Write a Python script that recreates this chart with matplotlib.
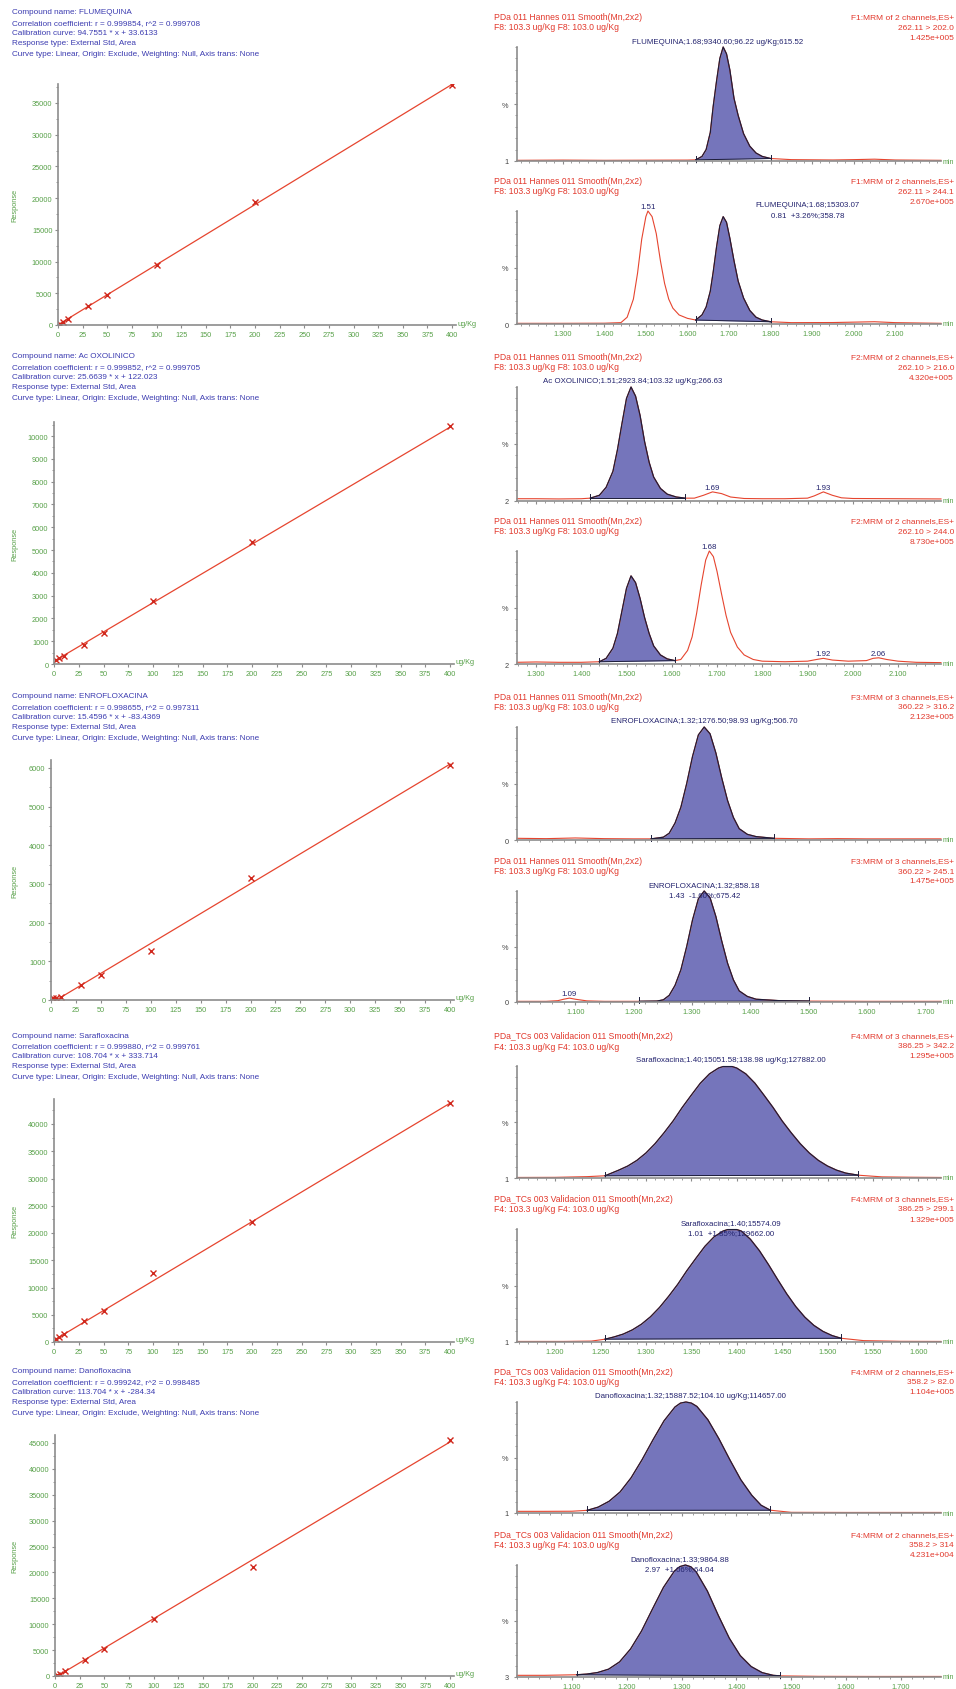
import numpy as np
import matplotlib
matplotlib.use("Agg")
import matplotlib.pyplot as plt
from matplotlib.ticker import MultipleLocator, FixedLocator

W, H = 956, 1690
plt.rcParams["font.family"] = ["Liberation Sans", "DejaVu Sans"]

BLUE_TXT = "#3b3bb0"
RED_TXT = "#e2382c"
NAVY = "#23236e"
GREEN = "#57a048"
AXIS = "#8c8c8c"
FILL = "#7575bb"
TRACE = "#e6452f"
EDGE = "#1d1d3a"
MARK = "#d0271c"

# ---- calibration curves ----
CONC = [2, 5, 10, 30, 50, 100, 200, 400]
NAMES = ["FLUMEQUINA", "Ac OXOLINICO", "ENROFLOXACINA", "Sarafloxacina", "Danofloxacina"]
R_VALUES = ["0.999854", "0.999852", "0.998655", "0.999880", "0.999242"]
R2_VALUES = ["0.999708", "0.999705", "0.997311", "0.999761", "0.998485"]
SLOPES = [94.7551, 25.6639, 15.4596, 108.704, 113.704]
INTERCEPTS = [33.6133, 122.023, -83.4369, 333.714, -284.34]
RESP_FLU = [210, 530, 960, 2940, 4730, 9510, 19400, 37800]
RESP_OXO = [180, 260, 370, 850, 1360, 2770, 5360, 10420]
RESP_ENRO = [40, 60, 90, 390, 650, 1270, 3150, 6080]
RESP_SARA = [520, 900, 1400, 3900, 5750, 12600, 22000, 43800]
RESP_DANO = [150, 420, 900, 3150, 5200, 11000, 21000, 45600]
RESPONSES = [RESP_FLU, RESP_OXO, RESP_ENRO, RESP_SARA, RESP_DANO]
Y_STEP = [5000, 1000, 1000, 5000, 5000]
Y_MAX_TICK = [35000, 10000, 6000, 40000, 45000]
Y_TOP = [38000, 10600, 6200, 44500, 46500]

# pixel geometry of the left column: y-axis x, x=400 position, y=0 row, top tick row
CAL_LEFT = [58, 54, 51, 54, 55]
CAL_X400 = [452, 450, 450, 450, 450]
CAL_Y0 = [326, 665, 1001, 1343, 1677]
CAL_YTICK = [104, 437, 769, 1125, 1444]
CAL_HEAD = [13, 357, 697, 1036, 1372]

# ---- chromatograms (time in min, intensity in %) ----
P1_T = [1.19, 1.30, 1.40, 1.50, 1.60, 1.62, 1.635, 1.645, 1.655, 1.662, 1.670, 1.678, 1.686, 1.694,
        1.702, 1.712, 1.722, 1.735, 1.750, 1.765, 1.780, 1.80, 1.85, 1.95, 2.00, 2.05, 2.10, 2.21]
P1_Y = [0.6, 0.8, 0.6, 0.7, 0.8, 1.0, 4, 10, 25, 48, 70, 90, 100, 94,
        80, 55, 40, 24, 13, 7, 4, 2.2, 1.2, 0.9, 1.2, 1.6, 0.9, 0.6]
P2_T = [1.19, 1.30, 1.40, 1.44, 1.455, 1.47, 1.48, 1.49, 1.50, 1.505, 1.515, 1.525, 1.535, 1.545,
        1.555, 1.565, 1.58, 1.60, 1.62, 1.635, 1.645, 1.655, 1.662, 1.670, 1.678, 1.686, 1.694,
        1.702, 1.712, 1.722, 1.735, 1.750, 1.765, 1.780, 1.80, 1.85, 1.95, 2.05, 2.10, 2.21]
P2_Y = [0.6, 0.6, 0.7, 1.2, 6, 22, 45, 75, 95, 100, 95, 80, 56, 36,
        22, 14, 8, 5, 3.5, 8, 15, 29, 46, 68, 87, 95, 90,
        76, 56, 38, 23, 12, 6, 3.5, 2, 1.2, 1.3, 2, 1.2, 0.6]
P3_T = [1.258, 1.30, 1.35, 1.40, 1.42, 1.44, 1.455, 1.47, 1.48, 1.49, 1.50, 1.51, 1.52, 1.53,
        1.54, 1.55, 1.56, 1.575, 1.59, 1.61, 1.63, 1.65, 1.67, 1.69, 1.71, 1.73, 1.76, 1.80,
        1.85, 1.90, 1.915, 1.935, 1.955, 1.975, 2.00, 2.10, 2.195]
P3_Y = [2, 2, 1.8, 2, 2.5, 5, 12, 26, 45, 68, 90, 100, 92, 75,
        52, 34, 21, 11, 6, 3.5, 2.5, 2.5, 5, 8, 6.5, 3.5, 2.2, 2,
        2, 2.5, 4.5, 8, 5, 2.8, 2.2, 2, 1.8]
P4_T = [1.258, 1.30, 1.35, 1.40, 1.44, 1.455, 1.47, 1.48, 1.49, 1.50, 1.51, 1.52, 1.53, 1.54,
        1.55, 1.56, 1.575, 1.59, 1.607, 1.62, 1.635, 1.645, 1.655, 1.665, 1.675, 1.683, 1.692,
        1.70, 1.71, 1.72, 1.73, 1.745, 1.76, 1.78, 1.80, 1.85, 1.90, 1.92, 1.935, 1.955, 1.99,
        2.03, 2.045, 2.057, 2.075, 2.10, 2.14, 2.195]
P4_Y = [1.5, 1.8, 1.5, 1.5, 2, 5, 14, 27, 47, 67, 78, 72, 58, 41,
        27, 16, 8, 4.5, 3, 4, 12, 24, 45, 70, 92, 100, 95,
        82, 62, 43, 28, 15, 8, 4, 2.5, 2, 2.5, 4, 5, 3.5, 2.5,
        3, 5, 5.5, 4, 2.5, 1.5, 1.2]
P5_T = [1.00, 1.05, 1.10, 1.15, 1.20, 1.23, 1.251, 1.261, 1.271, 1.281, 1.291, 1.301, 1.311, 1.321,
        1.331, 1.341, 1.351, 1.361, 1.371, 1.381, 1.395, 1.41, 1.44, 1.50, 1.55, 1.60, 1.65, 1.727]
P5_Y = [1.5, 1.2, 1.8, 1.2, 1.0, 1.0, 2.5, 6, 15, 29, 50, 74, 93, 100,
        94, 77, 55, 35, 20, 10, 5, 3, 1.5, 1.0, 1.2, 1.0, 1.0, 1.0]
P6_T = [1.00, 1.05, 1.07, 1.08, 1.09, 1.10, 1.12, 1.15, 1.21, 1.24, 1.251, 1.261, 1.271, 1.281,
        1.291, 1.301, 1.311, 1.321, 1.331, 1.341, 1.351, 1.361, 1.371, 1.381, 1.395, 1.41, 1.45,
        1.50, 1.60, 1.727]
P6_Y = [0.6, 0.6, 1.2, 2.5, 3.5, 2.5, 1.0, 0.6, 0.6, 0.8, 2, 6, 15, 29,
        50, 74, 93, 100, 94, 77, 55, 35, 20, 10, 5, 2.5, 1.2,
        0.8, 0.6, 0.6]
P7_T = [1.158, 1.20, 1.235, 1.255, 1.27, 1.28, 1.29, 1.30, 1.31, 1.32, 1.33, 1.34, 1.35, 1.36,
        1.37, 1.38, 1.385, 1.395, 1.40, 1.41, 1.42, 1.43, 1.44, 1.45, 1.46, 1.47, 1.48, 1.49,
        1.50, 1.51, 1.52, 1.534, 1.56, 1.59, 1.625]
P7_Y = [0.5, 0.6, 1.2, 2, 7, 10.7, 15.7, 22.3, 30.6, 40.4, 51, 63, 74, 84.7,
        93, 98.2, 99.5, 99.5, 98.2, 93, 84.7, 74, 63, 51, 40.4, 30.6, 22.3, 15.7,
        10.7, 7, 4.4, 2.5, 1.0, 0.7, 0.5]
P8_T = [1.158, 1.21, 1.24, 1.255, 1.265, 1.275, 1.285, 1.295, 1.305, 1.315, 1.325, 1.335, 1.345,
        1.355, 1.365, 1.375, 1.385, 1.39, 1.40, 1.405, 1.415, 1.425, 1.435, 1.445, 1.455, 1.465,
        1.475, 1.485, 1.495, 1.505, 1.515, 1.54, 1.58, 1.625]
P8_Y = [0.5, 0.5, 0.8, 2.5, 4.5, 7, 10.7, 15.7, 22.3, 30.6, 40.4, 51, 63,
        74, 84.7, 93, 98.2, 99.5, 99.5, 98.2, 91, 80.8, 68.5, 55.4, 42.7, 31.4,
        22, 14.7, 9.4, 5.7, 3.3, 1.2, 0.6, 0.5]
P9_T = [1.00, 1.05, 1.10, 1.128, 1.148, 1.168, 1.188, 1.208, 1.228, 1.248, 1.268, 1.288, 1.298,
        1.308, 1.318, 1.328, 1.348, 1.368, 1.388, 1.408, 1.428, 1.445, 1.462, 1.50, 1.60, 1.70,
        1.773]
P9_Y = [1.5, 1.5, 1.6, 2.4, 5.3, 10.6, 19, 31.7, 48, 66, 83, 95.5, 99,
        100, 99, 96, 84, 67, 48, 30, 16, 7, 2.5, 0.6, 0.5, 0.5,
        0.5]
P10_T = [1.00, 1.05, 1.109, 1.127, 1.147, 1.167, 1.187, 1.207, 1.227, 1.247, 1.267, 1.287, 1.297,
         1.307, 1.317, 1.327, 1.347, 1.367, 1.387, 1.407, 1.427, 1.447, 1.467, 1.48, 1.55, 1.65,
         1.773]
P10_Y = [1.5, 1.5, 2, 2.6, 4, 7, 13.5, 25, 41, 60.7, 80, 94.6, 98.6,
         100, 98.4, 93.6, 76.8, 55, 34.7, 19.1, 9.3, 3.9, 1.5, 1.0, 0.6, 0.5,
         0.5]

TRACES = [(P1_T, P1_Y), (P2_T, P2_Y), (P3_T, P3_Y), (P4_T, P4_Y), (P5_T, P5_Y),
          (P6_T, P6_Y), (P7_T, P7_Y), (P8_T, P8_Y), (P9_T, P9_Y), (P10_T, P10_Y)]
WINDOWS = [(1.62, 1.80), (1.62, 1.80), (1.42, 1.63), (1.44, 1.607), (1.23, 1.44),
           (1.21, 1.50), (1.255, 1.534), (1.255, 1.515), (1.128, 1.462), (1.109, 1.48)]
BASE_LABELS = ["1", "0", "2", "2", "0", "0", "1", "1", "1", "3"]

ROW_XLIM = [(1.19, 2.21), (1.258, 2.195), (1.0, 1.727), (1.158, 1.625), (1.0, 1.773)]
ROW_XTICKS = [[1.3, 1.4, 1.5, 1.6, 1.7, 1.8, 1.9, 2.0, 2.1],
              [1.3, 1.4, 1.5, 1.6, 1.7, 1.8, 1.9, 2.0, 2.1],
              [1.1, 1.2, 1.3, 1.4, 1.5, 1.6, 1.7],
              [1.2, 1.25, 1.3, 1.35, 1.4, 1.45, 1.5, 1.55, 1.6],
              [1.1, 1.2, 1.3, 1.4, 1.5, 1.6, 1.7]]
ROW_XMINOR = [0.02, 0.02, 0.02, 0.01, 0.02]

CH_LEFT, CH_RIGHT = 517, 941
CH_TOP = [48, 212, 388, 552, 728, 892, 1067, 1230, 1403, 1566]
CH_BASE = [162, 325, 502, 665, 841, 1003, 1179, 1343, 1514, 1678]

HEAD_A = ["PDa 011 Hannes 011 Smooth(Mn,2x2)"] * 6 + ["PDa_TCs 003 Validacion 011 Smooth(Mn,2x2)"] * 4
HEAD_B = ["F8: 103.3 ug/Kg F8: 103.0 ug/Kg"] * 6 + ["F4: 103.3 ug/Kg F4: 103.0 ug/Kg"] * 4
MRM = ["F1:MRM of 2 channels,ES+", "F1:MRM of 2 channels,ES+", "F2:MRM of 2 channels,ES+",
       "F2:MRM of 2 channels,ES+", "F3:MRM of 3 channels,ES+", "F3:MRM of 3 channels,ES+",
       "F4:MRM of 3 channels,ES+", "F4:MRM of 3 channels,ES+", "F4:MRM of 2 channels,ES+",
       "F4:MRM of 2 channels,ES+"]
TRANSITIONS = ["262.11 > 202.0", "262.11 > 244.1", "262.10 > 216.0", "262.10 > 244.0",
               "360.22 > 316.2", "360.22 > 245.1", "386.25 > 342.2", "386.25 > 299.1",
               "358.2 > 82.0", "358.2 > 314"]
INTENSITIES = ["1.425e+005", "2.670e+005", "4.320e+005", "8.730e+005", "2.123e+005",
               "1.475e+005", "1.295e+005", "1.329e+005", "1.104e+005", "4.231e+004"]

PEAK_LABELS = [
    [(1.673, "FLUMEQUINA;1.68;9340.60;96.22 ug/Kg;615.52")],
    [(1.89, "FLUMEQUINA;1.68;15303.07"), (1.89, "0.81  +3.26%;358.78")],
    [(1.514, "Ac OXOLINICO;1.51;2923.84;103.32 ug/Kg;266.63")],
    [],
    [(1.321, "ENROFLOXACINA;1.32;1276.50;98.93 ug/Kg;506.70")],
    [(1.321, "ENROFLOXACINA;1.32;858.18"), (1.321, "1.43  -1.60%;675.42")],
    [(1.394, "Sarafloxacina;1.40;15051.58;138.98 ug/Kg;127882.00")],
    [(1.394, "Sarafloxacina;1.40;15574.09"), (1.394, "1.01  +1.85%;129662.00")],
    [(1.316, "Danofloxacina;1.32;15887.52;104.10 ug/Kg;114657.00")],
    [(1.296, "Danofloxacina;1.33;9864.88"), (1.296, "2.97  +1.06%;64.04")],
]
SMALL_LABELS = [
    [], [(1.505, 104, "1.51")], [(1.69, 12, "1.69"), (1.935, 12, "1.93")],
    [(1.683, 104, "1.68"), (1.935, 9, "1.92"), (2.057, 9.5, "2.06")],
    [], [(1.09, 8, "1.09")], [], [], [], [],
]


def add_px_axes(fig, left, right, top, bottom):
    """Axes placed by pixel edges measured from the top-left corner."""
    return fig.add_axes([left / W, 1 - bottom / H, (right - left) / W, (bottom - top) / H])


def fig_text(fig, x, y, s, **kw):
    fig.text(x / W, 1 - y / H, s, va="center", **kw)


def draw_calibration(fig, i):
    left, x400, y0 = CAL_LEFT[i], CAL_X400[i], CAL_Y0[i]
    px_per_unit = (y0 - CAL_YTICK[i]) / Y_MAX_TICK[i]
    top = y0 - Y_TOP[i] * px_per_unit
    right = left + (x400 - left) * 404 / 400
    ax = add_px_axes(fig, left, right, top, y0)

    xs = np.array([CONC[0], CONC[-1]])
    ax.plot(xs, SLOPES[i] * xs + INTERCEPTS[i], color=TRACE, lw=0.9)
    ax.plot(CONC, RESPONSES[i], ls="none", marker="x", ms=3.8, mew=1.0, color=MARK)

    ax.set_xlim(0, 404)
    ax.set_ylim(0, Y_TOP[i])
    ax.xaxis.set_major_locator(FixedLocator(list(range(0, 401, 25))))
    ax.yaxis.set_major_locator(FixedLocator(list(range(0, Y_MAX_TICK[i] + 1, Y_STEP[i]))))
    ax.yaxis.set_minor_locator(MultipleLocator(Y_STEP[i] / 2))
    for side in ("top", "right"):
        ax.spines[side].set_visible(False)
    for side in ("left", "bottom"):
        ax.spines[side].set_color(AXIS)
        ax.spines[side].set_linewidth(1.2)
    ax.tick_params(which="both", colors=AXIS, labelcolor=GREEN, labelsize=5.3, length=2, pad=2)
    ax.tick_params(which="minor", length=1.5)
    ax.patch.set_alpha(0)

    fig_text(fig, x400 + 6, y0 - 2, "ug/Kg", color=GREEN, fontsize=5.3)
    fig_text(fig, 15, (y0 + top) / 2, "Response", color=GREEN, fontsize=5.3,
             rotation=90, ha="center")

    lines = [
        f"Compound name: {NAMES[i]}",
        f"Correlation coefficient: r = {R_VALUES[i]}, r^2 = {R2_VALUES[i]}",
        f"Calibration curve: {SLOPES[i]} * x + {INTERCEPTS[i]}",
        "Response type: External Std, Area",
        "Curve type: Linear, Origin: Exclude, Weighting: Null, Axis trans: None",
    ]
    for k, s in enumerate(lines):
        fig_text(fig, 12, CAL_HEAD[i] + k * 10.3, s, color=BLUE_TXT, fontsize=5.9)


def draw_chromatogram(fig, j):
    row = j // 2
    top, base = CH_TOP[j], CH_BASE[j]
    ax = add_px_axes(fig, CH_LEFT, CH_RIGHT, top, base)
    t = np.array(TRACES[j][0])
    y = np.array(TRACES[j][1])

    # integrated window: filled area, dark outline and drop-line baseline
    a, b = WINDOWS[j]
    m = (t >= a) & (t <= b)
    ya, yb = y[t == a][0], y[t == b][0]
    tw = t[m]
    baseline = ya + (yb - ya) * (tw - a) / (b - a)
    ax.fill_between(tw, baseline, y[m], color=FILL, lw=0)
    ax.plot(t, y, color=TRACE, lw=0.8, clip_on=False)
    ax.plot(tw, y[m], color=EDGE, lw=0.9, clip_on=False)
    ax.plot([a, b], [ya, yb], color=EDGE, lw=0.7)
    for te, ye in ((a, ya), (b, yb)):
        ax.plot([te, te], [ye - 1.5, ye + 3.5], color=EDGE, lw=0.7, clip_on=False)

    ax.set_xlim(*ROW_XLIM[row])
    ax.set_ylim(0, 100)
    ax.xaxis.set_major_locator(FixedLocator(ROW_XTICKS[row]))
    ax.xaxis.set_minor_locator(MultipleLocator(ROW_XMINOR[row]))
    ax.yaxis.set_major_locator(FixedLocator([0, 50]))
    ax.yaxis.set_minor_locator(MultipleLocator(10))
    ax.set_yticklabels([BASE_LABELS[j], "%"])
    if j % 2 == 1:
        ax.set_xticklabels([f"{v:.3f}" for v in ROW_XTICKS[row]])
    else:
        ax.set_xticklabels([])
    for side in ("top", "right"):
        ax.spines[side].set_visible(False)
    for side in ("left", "bottom"):
        ax.spines[side].set_color(AXIS)
        ax.spines[side].set_linewidth(1.2)
    ax.tick_params(which="both", colors=AXIS, labelsize=5.3, length=2, pad=2)
    ax.tick_params(axis="x", labelcolor=GREEN)
    ax.tick_params(axis="y", labelcolor="#444444", pad=4)
    ax.tick_params(which="minor", length=1.2)
    ax.patch.set_alpha(0)

    fig_text(fig, 943, base, "min", color=GREEN, fontsize=5)
    fig_text(fig, 494, top - 30, HEAD_A[j], color=RED_TXT, fontsize=6.2)
    fig_text(fig, 494, top - 20, HEAD_B[j], color=RED_TXT, fontsize=6.2)
    fig_text(fig, 954, top - 30, MRM[j], color=RED_TXT, fontsize=6.0, ha="right")
    fig_text(fig, 954, top - 20, TRANSITIONS[j], color=RED_TXT, fontsize=6.0, ha="right")
    fig_text(fig, 954, top - 10, INTENSITIES[j], color=RED_TXT, fontsize=6.0, ha="right")

    height = base - top
    offsets = [-6, 4]
    for k, (tl, s) in enumerate(PEAK_LABELS[j]):
        ax.text(tl, 1 + (-offsets[k]) / height, s, transform=ax.get_xaxis_transform(),
                ha="center", va="center", color=NAVY, fontsize=5.7)
    for tl, yl, s in SMALL_LABELS[j]:
        ax.text(tl, yl, s, ha="center", va="center", color=NAVY, fontsize=5.7, clip_on=False)


def main():
    fig = plt.figure(figsize=(W / 100, H / 100), dpi=100)
    fig.patch.set_facecolor("white")
    for i in range(5):
        draw_calibration(fig, i)
    for j in range(10):
        draw_chromatogram(fig, j)
    fig.savefig("out.png", dpi=100)


if __name__ == "__main__":
    main()
